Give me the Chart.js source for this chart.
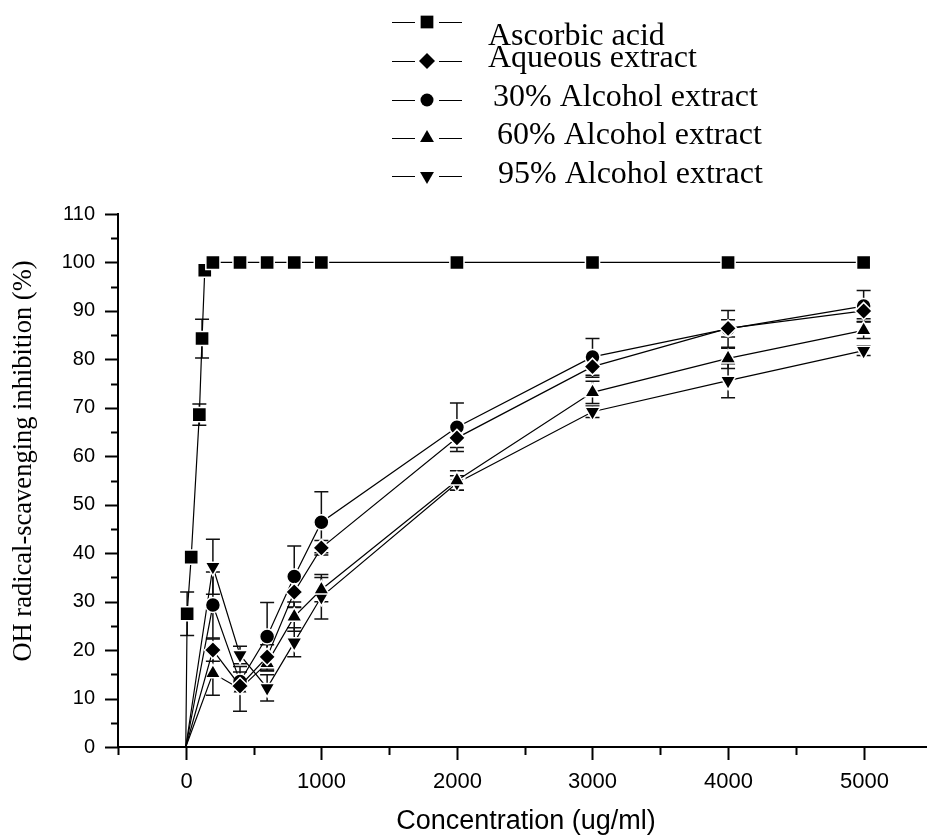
<!DOCTYPE html>
<html>
<head>
<meta charset="utf-8">
<script src="https://cdn.jsdelivr.net/npm/chart.js@4.4.1/dist/chart.umd.min.js"></script>
<style>
  html, body { margin: 0; padding: 0; background: #fff; overflow: hidden; }
  #wrap { position: relative; width: 927px; height: 837px; }
  canvas { display: block; }
</style>
</head>
<body>
<div id="wrap"><canvas id="c"></canvas></div>
<script>
// ---- data ----
const seriesNames = ["Ascorbic acid", "Aqueous extract", "30% Alcohol extract", "60% Alcohol extract", "95% Alcohol extract"];
const concAscorbic = [0, 10, 40, 100, 120, 140, 200, 400, 600, 800, 1000, 2000, 3000, 4000, 5000];
const ascorbic     = [0, 27.5, 39.2, 68.6, 84.3, 98.4, 100, 100, 100, 100, 100, 100, 100, 100, 100];
const ascorbicErr  = [0, 4.5, 0.8, 2.2, 4.0, 0.8, 0, 0, 0, 0, 0, 0, 0, 0, 0];
const conc         = [0, 200, 400, 600, 800, 1000, 2000, 3000, 4000, 5000];
const aqueous      = [0, 20.0, 12.6, 18.6, 32.0, 41.1, 63.8, 78.5, 86.4, 90.0];
const aqueousErr   = [0, 2.3, 1.5, 2.5, 3.2, 1.5, 2.0, 2.2, 1.8, 1.6];
const alc30        = [0, 29.3, 13.5, 22.8, 35.2, 46.4, 66.0, 80.5, 86.3, 91.0];
const alc30Err     = [0, 6.8, 2.0, 7.0, 6.3, 6.3, 5.0, 3.8, 3.8, 3.2];
const alc60        = [0, 15.2, 12.0, 17.3, 26.9, 32.5, 55.0, 73.2, 80.2, 86.0];
const alc60Err     = [0, 4.5, 4.6, 1.6, 3.0, 2.5, 2.0, 2.3, 2.1, 1.7];
const alc95        = [0, 37.2, 19.0, 12.2, 21.6, 31.0, 54.5, 69.2, 75.6, 81.8];
const alc95Err     = [0, 5.7, 1.8, 2.7, 3.0, 4.6, 1.5, 1.2, 3.5, 1.0];
const xTickValues  = [-500, 0, 500, 1000, 1500, 2000, 2500, 3000, 3500, 4000, 4500, 5000];
const xTickLabels  = [0, 1000, 2000, 3000, 4000, 5000];
const yTickLabels  = [0, 10, 20, 30, 40, 50, 60, 70, 80, 90, 100, 110];
const xTitle = "Concentration (ug/ml)";
const yTitle = "OH radical-scavenging inhibition (%)";

function pts(xs, ys) { return xs.map((x, i) => ({ x: x, y: ys[i] })); }

const styles = [
  { pointStyle: 'rect', r: 10, rot: 0 },
  { pointStyle: 'rectRot', r: 8.5, rot: 0 },
  { pointStyle: 'circle', r: 7.5, rot: 0 },
  { pointStyle: 'triangle', r: 9, rot: 0 },
  { pointStyle: 'triangle', r: 9, rot: 180 }
];
const allX = [concAscorbic, conc, conc, conc, conc];
const allY = [ascorbic, aqueous, alc30, alc60, alc95];
const allErr = [ascorbicErr, aqueousErr, alc30Err, alc60Err, alc95Err];

const datasets = seriesNames.map((name, i) => ({
  label: name,
  data: pts(allX[i], allY[i]),
  errors: allErr[i],
  showLine: true,
  borderColor: '#000',
  borderWidth: 1.2,
  backgroundColor: '#000',
  pointStyle: styles[i].pointStyle,
  pointRotation: styles[i].rot,
  pointBackgroundColor: '#000',
  pointBorderColor: '#fff',
  pointBorderWidth: 1.5,
  pointRadius: ctx => (ctx.raw && ctx.raw.x === 0 && ctx.raw.y === 0) ? 0 : styles[i].r,
  pointHoverRadius: ctx => (ctx.raw && ctx.raw.x === 0 && ctx.raw.y === 0) ? 0 : styles[i].r,
  tension: 0,
  clip: false
}));

const errorBars = {
  id: 'errorBars',
  beforeDatasetsDraw(chart) {
    const ctx = chart.ctx, xs = chart.scales.x, ys = chart.scales.y;
    ctx.save();
    ctx.strokeStyle = '#111';
    ctx.lineWidth = 1.5;
    chart.data.datasets.forEach(ds => {
      ds.data.forEach((p, j) => {
        const e = ds.errors[j];
        if (!e) return;
        const px = xs.getPixelForValue(p.x);
        const t = ys.getPixelForValue(p.y + e);
        const b = ys.getPixelForValue(p.y - e);
        ctx.beginPath();
        ctx.moveTo(px, t); ctx.lineTo(px, b);
        ctx.moveTo(px - 7, t); ctx.lineTo(px + 7, t);
        ctx.moveTo(px - 7, b); ctx.lineTo(px + 7, b);
        ctx.stroke();
      });
    });
    ctx.restore();
  }
};

const decorations = {
  id: 'decorations',
  afterDraw(chart) {
    const ctx = chart.ctx, xs = chart.scales.x, ys = chart.scales.y;
    ctx.save();
    ctx.strokeStyle = '#000';
    ctx.lineWidth = 2;
    // y ticks (major long, minor short, outward)
    ys.ticks.forEach(t => {
      const py = Math.round(ys.getPixelForValue(t.value)) + 0.5;
      const len = yTickLabels.includes(t.value) ? 13 : 7;
      ctx.beginPath();
      ctx.moveTo(xs.left, py); ctx.lineTo(xs.left - len, py);
      ctx.stroke();
    });
    // x ticks and labels
    ctx.fillStyle = '#000';
    ctx.font = '22px "Liberation Sans", Arial, sans-serif';
    ctx.textAlign = 'center';
    ctx.textBaseline = 'alphabetic';
    xs.ticks.forEach(t => {
      const px = Math.round(xs.getPixelForValue(t.value)) + 0.5;
      const major = xTickLabels.includes(t.value);
      const len = major ? 13 : 8;
      ctx.beginPath();
      ctx.moveTo(px, ys.bottom); ctx.lineTo(px, ys.bottom + len);
      ctx.stroke();
      if (major) ctx.fillText(String(t.value), px, 788);
    });
    // axis titles
    ctx.font = '27px "Liberation Sans", Arial, sans-serif';
    ctx.fillText(xTitle, 526, 829);
    ctx.save();
    ctx.translate(31, 461);
    ctx.rotate(-Math.PI / 2);
    ctx.font = '26.5px "Liberation Serif", "Times New Roman", serif';
    ctx.fillText(yTitle, 0, 0);
    ctx.restore();
    // legend
    const markerY = [22, 61, 100, 138, 176];
    const textX = [488, 488, 493, 497, 498];
    const textY = [45, 67, 106, 144, 183];
    const legR = [9, 8, 6.5, 8, 8];
    ctx.font = '32px "Liberation Serif", "Times New Roman", serif';
    ctx.textAlign = 'left';
    seriesNames.forEach((name, i) => {
      const y = markerY[i];
      ctx.lineWidth = 1;
      ctx.strokeStyle = '#000';
      ctx.beginPath();
      ctx.moveTo(392, y + 0.5); ctx.lineTo(415, y + 0.5);
      ctx.moveTo(439, y + 0.5); ctx.lineTo(462, y + 0.5);
      ctx.stroke();
      ctx.fillStyle = '#000';
      Chart.helpers.drawPoint(ctx, { pointStyle: styles[i].pointStyle, rotation: styles[i].rot, radius: legR[i], borderWidth: 0 }, 427, y);
      ctx.fillStyle = '#000';
      ctx.fillText(name, textX[i], textY[i]);
    });
    ctx.restore();
  }
};

new Chart(document.getElementById('c'), {
  type: 'line',
  data: { datasets: datasets },
  options: {
    responsive: true,
    maintainAspectRatio: false,
    animation: false,
    layout: { autoPadding: false, padding: { top: 214, right: 1, bottom: 0, left: 0 } },
    plugins: { legend: { display: false }, tooltip: { enabled: false } },
    scales: {
      x: {
        type: 'linear',
        min: -500,
        max: 5460,
        afterBuildTicks: s => { s.ticks = xTickValues.map(v => ({ value: v })); },
        afterFit: s => { s.height = 90; s.paddingLeft = 0; s.paddingRight = 0; },
        grid: { display: false, drawTicks: false },
        border: { display: true, color: '#000', width: 2 },
        ticks: { display: false, autoSkip: false, maxRotation: 0 }
      },
      y: {
        type: 'linear',
        min: 0,
        max: 110,
        afterFit: s => { s.width = 118; },
        grid: { display: false, drawTicks: false },
        border: { display: true, color: '#000', width: 2 },
        ticks: {
          stepSize: 5,
          autoSkip: false,
          padding: 23,
          color: '#000',
          font: { family: '"Liberation Sans", Arial, sans-serif', size: 20 },
          callback: v => yTickLabels.includes(v) ? String(v) : ''
        }
      }
    }
  },
  plugins: [errorBars, decorations]
});
</script>
</body>
</html>
